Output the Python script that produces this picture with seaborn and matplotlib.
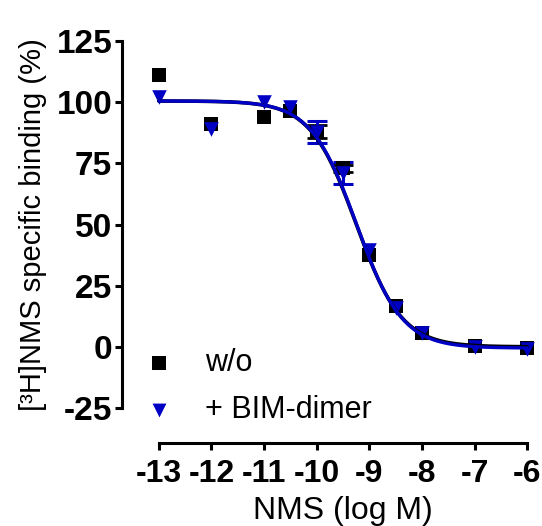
import numpy as np
import pandas as pd
import matplotlib
matplotlib.use("Agg")
import matplotlib.pyplot as plt
import seaborn as sns

# ---- data ----
log_nms = [-13, -12, -11, -10.5, -10, -9.5, -9, -8.5, -8, -7, -6]
wo_binding = [111, 91, 94, 96.5, 88, 73, 37.5, 16.5, 5.5, 0.5, -0.5]
wo_err = [0, 0, 0, 0, 2.5, 1.5, 0, 0, 0, 0, 0]
bim_binding = [102, 89, 100, 98, 88, 71, 39.5, 16, 5.5, 0, -1]
bim_err = [0, 0, 0, 0, 4.5, 4.5, 0, 0, 0, 0, 0]

# fitted one-site competition parameters (top, bottom, logIC50, hill)
wo_fit = (100.5, 0.0, -9.25, 1.0)
bim_fit = (100.5, -0.5, -9.24, 1.0)

yticks = [-25, 0, 25, 50, 75, 100, 125]
xticks = [-13, -12, -11, -10, -9, -8, -7, -6]

sns.set_style("ticks")
plt.rcParams["font.family"] = ["Liberation Sans", "DejaVu Sans"]
plt.rcParams["text.color"] = "black"
plt.rcParams["axes.labelcolor"] = "black"
plt.rcParams["xtick.color"] = "black"
plt.rcParams["ytick.color"] = "black"

fig = plt.figure(figsize=(5.42, 5.26), dpi=100)
ax = fig.add_axes([0.225, 0.2243, 0.767, 0.6977])

black = "#000000"
blue = "#0000c4"

def curve(p, x):
    top, bottom, lic, h = p
    return bottom + (top - bottom) / (1 + 10 ** ((x - lic) * h))

xs = np.linspace(-13, -6, 300)
df_curve = pd.DataFrame({
    "x": np.concatenate([xs, xs]),
    "y": np.concatenate([curve(wo_fit, xs), curve(bim_fit, xs)]),
    "g": ["wo"] * len(xs) + ["bim"] * len(xs),
})

# spine placement first (set_position resets tick formatting)
sns.despine(ax=ax)
ax.spines["bottom"].set_position(("outward", 25))

def nz(xv, yv, ev):
    pts = [(a, b, c) for a, b, c in zip(xv, yv, ev) if c > 0]
    return [p[0] for p in pts], [p[1] for p in pts], [p[2] for p in pts]

ex, ey, ee = nz(log_nms, wo_binding, wo_err)
ax.errorbar(ex, ey, yerr=ee, fmt="none", ecolor=black,
            elinewidth=2, capsize=7, capthick=2, zorder=2)
ex, ey, ee = nz(log_nms, bim_binding, bim_err)
ax.errorbar(ex, ey, yerr=ee, fmt="none", ecolor=blue,
            elinewidth=2.2, capsize=7, capthick=2.2, zorder=3)

sns.scatterplot(x=log_nms, y=wo_binding, marker="s", s=100, color=black,
                edgecolor=black, linewidth=0, ax=ax, zorder=4, label="w/o")
sns.scatterplot(x=log_nms, y=bim_binding, marker="v", s=110, color=blue,
                edgecolor=blue, linewidth=0, ax=ax, zorder=5, label="+ BIM-dimer")

sns.lineplot(data=df_curve[df_curve.g == "wo"], x="x", y="y", color=black,
             lw=2.6, ax=ax, zorder=6, legend=False)
sns.lineplot(data=df_curve[df_curve.g == "bim"], x="x", y="y", color=blue,
             lw=2.4, ax=ax, zorder=7, legend=False)

ax.set_xlim(-13.7, -5.8)
ax.set_ylim(-25, 125)
ax.set_xticks(xticks)
ax.set_yticks(yticks)
ax.set_xticklabels([str(t) for t in xticks], fontsize=23, fontweight="bold")
ax.set_yticklabels([str(t) for t in yticks], fontsize=24, fontweight="bold")
ax.tick_params(width=2.2, length=5, pad=2, color=black, labelcolor=black)
ax.tick_params(axis="x", pad=7)
ax.spines["bottom"].set_bounds(-13, -6)
ax.spines["left"].set_linewidth(2.2)
ax.spines["bottom"].set_linewidth(2.2)
ax.spines["left"].set_color(black)
ax.spines["bottom"].set_color(black)

ax.set_xlabel("NMS (log M)", fontsize=23, labelpad=5, color=black)
ax.xaxis.label.set_x((-9.5 - (-13.7)) / (-5.8 - (-13.7)))
ax.set_ylabel("[³H]NMS specific binding (%)", fontsize=21, labelpad=7, color=black)

leg = ax.legend(loc="lower left", bbox_to_anchor=(-0.006, -0.105), frameon=False,
                fontsize=22, handlelength=1.2, handletextpad=0.9, labelspacing=0.55,
                borderaxespad=0.3, markerscale=0.95)
for t in leg.get_texts():
    t.set_color(black)

fig.savefig("out.png", dpi=100)
